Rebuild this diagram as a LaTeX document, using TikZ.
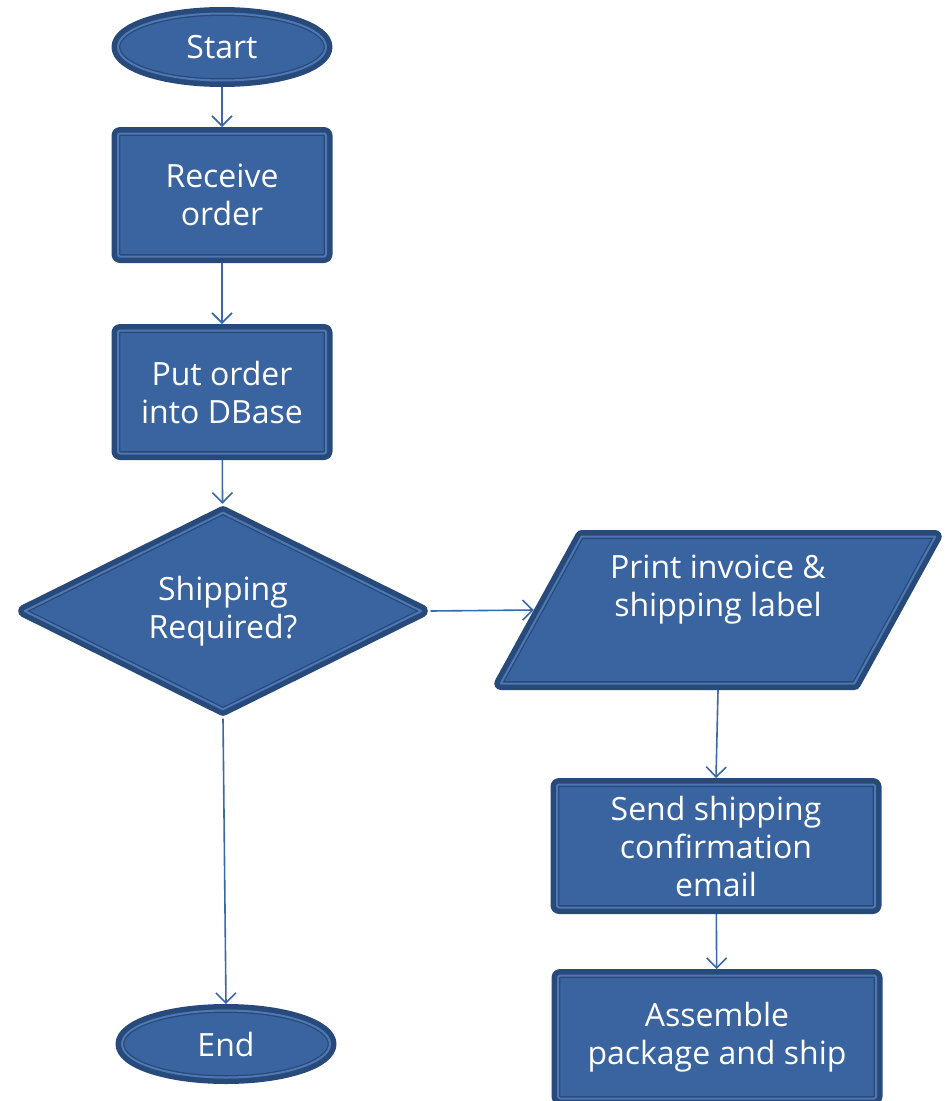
\documentclass[tikz,border=0pt]{standalone}
\usepackage{fontspec}
\setmainfont{Open Sans}
\usetikzlibrary{shapes.geometric,arrows.meta}
\definecolor{fillc}{HTML}{3A64A0}
\definecolor{darkc}{HTML}{274A7B}
\definecolor{lightc}{HTML}{4F78B3}
\definecolor{arrc}{HTML}{3B68A8}
\tikzset{
  shp/.style={fill=fillc, draw=darkc, line width=1.3pt, double=lightc, double distance=2pt,
    preaction={draw=darkc, line width=13pt}, line join=round, outer sep=6.5pt,
    text=white, font=\fontsize{32}{38}\selectfont, align=center, inner sep=0pt},
  procbox/.style={shp, rectangle, rounded corners=2pt, minimum width=208pt, minimum height=123pt},
  termin/.style={shp, ellipse, minimum width=208pt, minimum height=67pt},
  decis/.style={shp, diamond, shape aspect=2, minimum width=402pt, minimum height=202pt},
  iobox/.style={shp, trapezium, trapezium left angle=60, trapezium right angle=120,
    trapezium stretches=true, minimum width=436pt, minimum height=147pt},
  conn/.style={draw=arrc, line width=1.6pt, -{Straight Barb[length=10pt,width=20pt,line width=1.6pt]}}
}
\begin{document}
\begin{tikzpicture}[x=1pt,y=-1pt]
\useasboundingbox (0,0) rectangle (948,1101);
\node[termin] (start) at (222,47) {Start};
\node[procbox] (recv) at (222,195) {Receive\\order};
\node[procbox] (put) at (222,392) {Put order\\into DBase};
\node[decis] (dec) at (223,611) {Shipping\\Required?};
\node[iobox] (print) at (718,610) {Print invoice \&\\shipping label\\\strut};
\node[procbox, minimum width=318pt] (send) at (716,846) {Send shipping\\confirmation\\email};
\node[procbox, minimum width=318pt] (asm) at (717,1037) {Assemble\\package and ship};
\node[termin] (end) at (226,1044) {End};
\draw[conn] (start) -- (recv);
\draw[conn] (recv) -- (put);
\draw[conn] (put) -- (dec);
\draw[conn] (dec.east) -- (print.west);
\draw[conn] (print.south) -- (send.north);
\draw[conn] (send) -- (asm);
\draw[conn] (dec.south) -- (end.north);
\end{tikzpicture}
\end{document}
